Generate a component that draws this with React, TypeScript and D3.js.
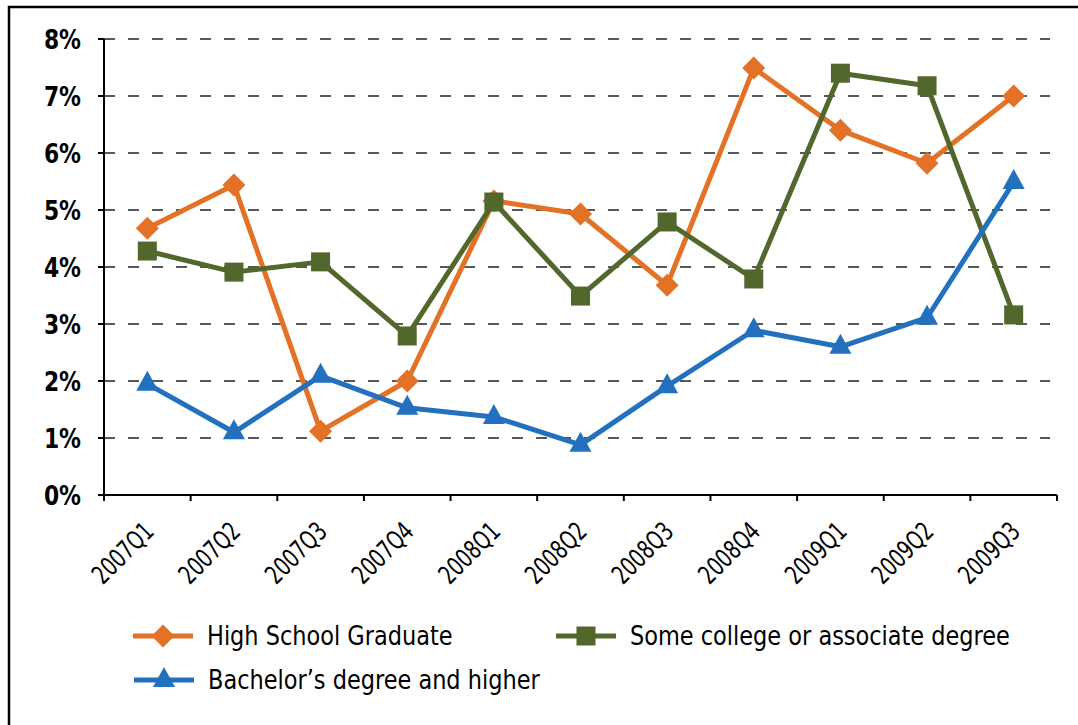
import * as d3 from "d3";

const categories = ["2007Q1", "2007Q2", "2007Q3", "2007Q4", "2008Q1", "2008Q2", "2008Q3", "2008Q4", "2009Q1", "2009Q2", "2009Q3"];
const highSchool = [4.68, 5.44, 1.12, 2.0, 5.16, 4.93, 3.68, 7.49, 6.4, 5.82, 7.0];
const someCollege = [4.28, 3.91, 4.09, 2.79, 5.14, 3.49, 4.79, 3.79, 7.4, 7.18, 3.16];
const bachelor = [1.95, 1.1, 2.09, 1.53, 1.37, 0.88, 1.91, 2.89, 2.6, 3.11, 5.49];
const yTicks = [0, 1, 2, 3, 4, 5, 6, 7, 8];

const FONT = "'Liberation Sans Narrow', 'DejaVu Sans Condensed', 'Roboto Condensed', sans-serif";
const ORANGE = "#E37126";
const GREEN = "#51672C";
const BLUE = "#2270BE";

const x = d3.scaleBand().domain(categories).range([104, 1057]);
const y = d3.scaleLinear().domain([0, 8]).range([495, 39]);
const cx = (c: string) => (x(c) ?? 0) + x.bandwidth() / 2;

const line = d3
  .line<number>()
  .x((_, i) => cx(categories[i]))
  .y((d) => y(d));

const diamond = (px: number, py: number, s = 11.5) =>
  `M${px},${py - s}L${px + s},${py}L${px},${py + s}L${px - s},${py}Z`;
const triangle = (px: number, py: number, s = 11) =>
  `M${px},${py - s - 2}L${px + s},${py + 7}L${px - s},${py + 7}Z`;

export default function App() {
  const series = [
    { values: highSchool, color: ORANGE, marker: "diamond" },
    { values: someCollege, color: GREEN, marker: "square" },
    { values: bachelor, color: BLUE, marker: "triangle" },
  ];

  const marker = (kind: string, px: number, py: number, color: string, key: any) => {
    if (kind === "square")
      return <rect key={key} x={px - 9.5} y={py - 9.5} width={19} height={19} fill={color} />;
    if (kind === "diamond") return <path key={key} d={diamond(px, py)} fill={color} />;
    return <path key={key} d={triangle(px, py)} fill={color} />;
  };

  return (
    <svg width={1078} height={725} style={{ position: "absolute", left: 0, top: 0, background: "#fff" }}>
      {/* frame: top and left edges only are visible */}
      <path d="M9,725V7H1078" fill="none" stroke="#000" strokeWidth={2.5} />

      {/* grid */}
      {yTicks.slice(1).map((t) => (
        <line key={t} x1={104} x2={1050} y1={y(t)} y2={y(t)} stroke="#222" strokeWidth={1.3} strokeDasharray="11,13" />
      ))}

      {/* y axis */}
      <line x1={104} x2={104} y1={y(8)} y2={y(0)} stroke="#000" strokeWidth={2} />
      {yTicks.map((t) => (
        <g key={t}>
          <line x1={98} x2={104} y1={y(t)} y2={y(t)} stroke="#000" strokeWidth={2} />
          <text
            transform={`translate(81,${y(t)}) scale(0.9,1)`}
            dy="0.36em"
            textAnchor="end"
            fontFamily={FONT}
            fontWeight="bold"
            fontSize={27}
          >
            {t}%
          </text>
        </g>
      ))}

      {/* x axis */}
      <line x1={104} x2={1057} y1={y(0)} y2={y(0)} stroke="#000" strokeWidth={2} />
      {[...categories.map((c) => x(c) ?? 0), 1057].map((px, i) => (
        <line key={i} x1={px} x2={px} y1={y(0)} y2={y(0) + 6} stroke="#000" strokeWidth={2} />
      ))}
      {categories.map((c) => (
        <text
          key={c}
          transform={`translate(${cx(c) + 8},${y(0) + 38}) rotate(-45) scale(0.8,1)`}
          textAnchor="end"
          fontFamily={FONT}
          fontSize={26}
        >
          {c}
        </text>
      ))}

      {/* series */}
      {series.map((s, si) => (
        <g key={si}>
          <path d={line(s.values) ?? ""} fill="none" stroke={s.color} strokeWidth={5} strokeLinejoin="round" />
          {s.values.map((v, i) => marker(s.marker, cx(categories[i]), y(v), s.color, i))}
        </g>
      ))}

      {/* legend */}
      {[
        { label: "High School Graduate", color: ORANGE, marker: "diamond", lx: 133, ly: 636 },
        { label: "Some college or associate degree", color: GREEN, marker: "square", lx: 556, ly: 636 },
        { label: "Bachelor\u2019s degree and higher", color: BLUE, marker: "triangle", lx: 134, ly: 680 },
      ].map((l) => (
        <g key={l.label}>
          <line x1={l.lx} x2={l.lx + 60} y1={l.ly} y2={l.ly} stroke={l.color} strokeWidth={5} />
          {marker(l.marker, l.lx + 30, l.ly, l.color, "m")}
          <text
            transform={`translate(${l.lx + 74},${l.ly}) scale(0.96,1)`}
            dy="0.36em"
            fontFamily={FONT}
            fontSize={26}
          >
            {l.label}
          </text>
        </g>
      ))}
    </svg>
  );
}
